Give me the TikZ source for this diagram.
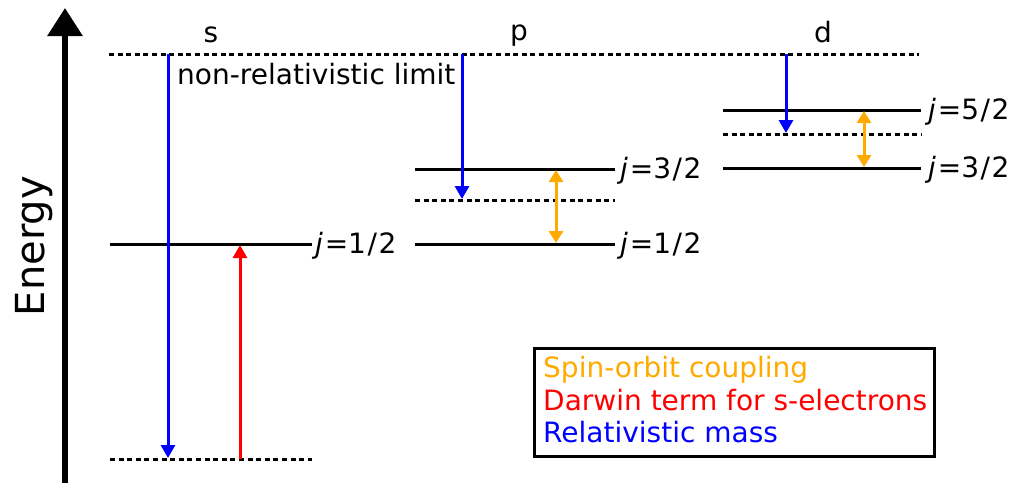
\documentclass[tikz,border=0pt]{standalone}
\usepackage{fontspec}
\setmainfont{DejaVu Sans}
\usetikzlibrary{arrows.meta}
\definecolor{soc}{RGB}{255,170,0}
\definecolor{darw}{RGB}{255,0,0}
\definecolor{relm}{RGB}{0,0,255}
\newcommand{\jval}[1]{\textit{j}\kern1.8pt=#1}
\newcommand{\frc}[2]{#1\kern1.6pt/\kern1.6pt#2}
\begin{document}
\begin{tikzpicture}[x=1pt,y=-1pt,
  level/.style={line width=3pt},
  reflevel/.style={line width=3pt, dash pattern=on 5pt off 3.6pt},
  massarrow/.style={line width=3pt, draw=relm, -{Triangle[width=14pt,length=13pt]}},
  darwarrow/.style={line width=3pt, draw=darw, -{Triangle[width=14pt,length=13pt]}},
  socarrow/.style={line width=3pt, draw=soc, {Triangle[width=14pt,length=12pt]}-{Triangle[width=14pt,length=12pt]}},
  lbl/.style={anchor=base west, inner sep=0pt, font=\fontsize{28}{34}\selectfont},
  orb/.style={anchor=base, inner sep=0pt, font=\fontsize{28}{34}\selectfont}]
\useasboundingbox (0,0) rectangle (1016,483);
% energy axis
\coordinate (ax0) at (65,483);
\coordinate (ax1) at (65,8);
\draw[line width=6pt, -{Triangle[width=34pt,length=28pt]}] (ax0) -- (ax1);
\node[rotate=90, anchor=base, inner sep=0pt, font=\fontsize{40}{48}\selectfont] (energy) at (44,246) {Energy};
% orbital names
\node[orb] (s) at (211,42) {s};
\node[orb] (p) at (519,40) {p};
\node[orb] (d) at (823,42) {d};
% non-relativistic limit
\coordinate (nrA) at (109,54);
\coordinate (nrB) at (919,54);
\draw[reflevel] (nrA) -- (nrB);
\node[lbl] (nrl) at (177,84) {non-relativistic limit};
% s levels
\coordinate (s1A) at (110,244); \coordinate (s1B) at (312,244);
\coordinate (s0A) at (110,459); \coordinate (s0B) at (312,459);
\draw[level] (s1A) -- (s1B);
\draw[reflevel] (s0A) -- (s0B);
\node[lbl] (s1l) at (315,253) {\jval{\frc{1}{2}}};
% p levels
\coordinate (p3A) at (415,169); \coordinate (p3B) at (615,169);
\coordinate (p0A) at (415,200); \coordinate (p0B) at (615,200);
\coordinate (p1A) at (415,244); \coordinate (p1B) at (615,244);
\draw[level] (p3A) -- (p3B);
\draw[reflevel] (p0A) -- (p0B);
\draw[level] (p1A) -- (p1B);
\node[lbl] (p3l) at (620,178) {\jval{\frc{3}{2}}};
\node[lbl] (p1l) at (620,253) {\jval{\frc{1}{2}}};
% d levels
\coordinate (d5A) at (723,110); \coordinate (d5B) at (921,110);
\coordinate (d0A) at (723,134); \coordinate (d0B) at (921,134);
\coordinate (d3A) at (723,168); \coordinate (d3B) at (921,168);
\draw[level] (d5A) -- (d5B);
\draw[reflevel] (d0A) -- (d0B);
\draw[level] (d3A) -- (d3B);
\node[lbl] (d5l) at (928,119) {\jval{\frc{5}{2}}};
\node[lbl] (d3l) at (928,177) {\jval{\frc{3}{2}}};
% relativistic mass arrows
\coordinate (ms0) at (168,54); \coordinate (ms1) at (168,458);
\coordinate (mp0) at (462,54); \coordinate (mp1) at (462,199);
\coordinate (md0) at (786,54); \coordinate (md1) at (786,133);
\draw[massarrow] (ms0) -- (ms1);
\draw[massarrow] (mp0) -- (mp1);
\draw[massarrow] (md0) -- (md1);
% darwin arrow
\coordinate (dw0) at (240,459); \coordinate (dw1) at (240,245);
\draw[darwarrow] (dw0) -- (dw1);
% spin-orbit arrows
\coordinate (sp0) at (556,170); \coordinate (sp1) at (556,243);
\coordinate (sd0) at (864,111); \coordinate (sd1) at (864,167);
\draw[socarrow] (sp0) -- (sp1);
\draw[socarrow] (sd0) -- (sd1);
% legend
\node[draw, line width=3pt, minimum width=400pt, minimum height=108pt, inner sep=0pt] (legend) at (734,402) {};
\node[lbl, text=soc] (lg1) at (543,377) {Spin-orbit coupling};
\node[lbl, text=darw] (lg2) at (543,410) {Darwin term for s-electrons};
\node[lbl, text=relm] (lg3) at (543,442) {Relativistic mass};
\end{tikzpicture}
\end{document}
